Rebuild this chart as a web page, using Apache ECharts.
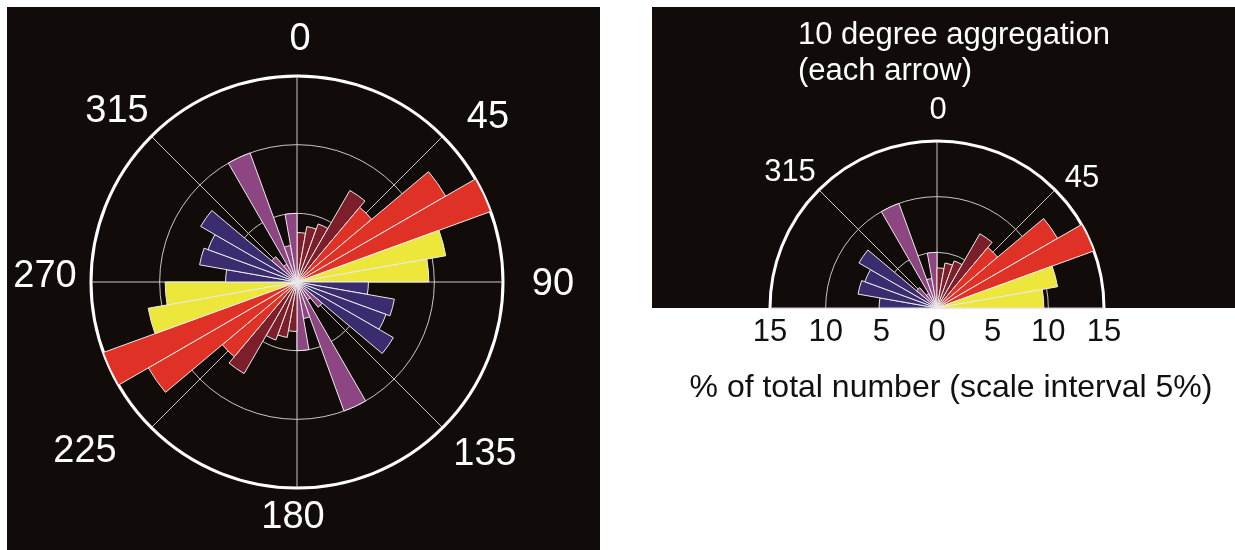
<!DOCTYPE html>
<html>
<head>
<meta charset="utf-8">
<script src="https://cdn.jsdelivr.net/npm/echarts@6/dist/echarts.min.js"></script>
<style>
  html, body { margin: 0; padding: 0; background: #ffffff; width: 1235px; height: 550px; overflow: hidden; }
  .panel { position: absolute; background: #110c0a; }
  #chart { position: absolute; left: 0; top: 0; width: 1235px; height: 550px; }
</style>
</head>
<body>
<div class="panel" style="left:7px; top:7px; width:593px; height:543px;"></div>
<div class="panel" style="left:652px; top:7px; width:583px; height:301px;"></div>
<div id="chart"></div>
<script>
// Direction bins (start of each 10-degree bin, clockwise from north),
// listed for the upper half-circle 270..360 and 0..90.
const binStart = [270, 280, 290, 300, 310, 320, 330, 340, 350, 0, 10, 20, 30, 40, 50, 60, 70, 80];
// Share of all measurements in each bin (%); opposite bins (θ+180) hold the same share.
const binShare = [5.2, 7.2, 6.9, 8.1, 2.4, 1.5, 10.0, 2.7, 5.0, 3.6, 4.1, 4.5, 7.7, 7.1, 12.5, 15.0, 11.0, 9.6];
// Compass labels around the roses and the radial scale below the half rose
const compassTicks = [0, 45, 90, 135, 180, 225, 270, 315];
const halfCompassTicks = [315, 0, 45];
const scaleTicks = [-15, -10, -5, 0, 5, 10, 15];
const titleLines = ['10 degree aggregation', '(each arrow)'];
const scaleName = '% of total number (scale interval 5%)';

const FONT = '"Liberation Sans", Arial, Helvetica, sans-serif';

// colour classes by direction
function dirColor(a) {
  a = ((a % 360) + 360) % 360;
  if (a >= 180) a -= 180;        // fold opposite directions together
  if (a < 40) return '#7c1f2b';   // 0-40
  if (a < 70) return '#e03127';   // 40-70
  if (a < 90) return '#ede73c';   // 70-90
  if (a < 130) return '#3b2c70';  // 270-310
  return '#8e4682';               // 310-360
}

const shareByStart = {};
binStart.forEach((s, i) => { shareByStart[s] = binShare[i]; });

// Full rose: 36 bins from 0 to 350
const fullStarts = [];
for (let s = 0; s < 360; s += 10) fullStarts.push(s);
const fullData = fullStarts.map(s => {
  const key = shareByStart[s] !== undefined ? s : (s + 180) % 360;
  return { value: shareByStart[key], itemStyle: { color: dirColor(s) } };
});
const halfData = binStart.map((s, i) => ({ value: binShare[i], itemStyle: { color: dirColor(s) } }));

const LEFT_C = [297, 282], LEFT_R = 206;
const RIGHT_C = [937, 308], RIGHT_R = 167;
const gridLine = { color: '#c8c8c8', width: 1 };

// compass label placement: centre offset from the rose centre (px)
const leftLabelOffset = {
  0: [3, -242], 45: [191, -164], 90: [256, 3], 135: [188, 173],
  180: [-4, 236], 225: [-212, 170], 270: [-252, -5], 315: [-180, -170]
};
const rightLabelOffset = { 315: [-147, -136], 0: [1, -198], 45: [145, -130] };

function compassText(center, offsets, ticks, size) {
  return ticks.map(t => ({
    type: 'text',
    x: center[0] + offsets[t][0],
    y: center[1] + offsets[t][1],
    z: 10,
    style: {
      text: String(t), fill: '#ffffff',
      fontSize: size, fontFamily: FONT,
      align: 'center', verticalAlign: 'middle',
      textAlign: 'center', textVerticalAlign: 'middle'
    }
  }));
}

const chart = echarts.init(document.getElementById('chart'), null, { renderer: 'canvas' });
chart.setOption({
  backgroundColor: 'transparent',
  animation: false,
  title: {
    left: 793, top: 12,
    text: titleLines.join('\n'),
    textStyle: { color: '#ffffff', fontSize: 31, fontWeight: 'normal', fontFamily: FONT, lineHeight: 36 }
  },
  graphic: compassText(LEFT_C, leftLabelOffset, compassTicks, 38)
    .concat(compassText(RIGHT_C, rightLabelOffset, halfCompassTicks, 31)),
  polar: [
    { center: LEFT_C, radius: LEFT_R },
    { center: LEFT_C, radius: LEFT_R },
    { center: RIGHT_C, radius: RIGHT_R },
    { center: RIGHT_C, radius: RIGHT_R }
  ],
  angleAxis: [
    {
      polarIndex: 0, type: 'value', min: 0, max: 360, interval: 45,
      startAngle: 90, clockwise: true,
      axisLine: { show: true, lineStyle: { color: '#ffffff', width: 3 } },
      axisTick: { show: false },
      splitLine: { show: true, lineStyle: gridLine },
      axisLabel: { show: false }
    },
    {
      polarIndex: 1, type: 'category', data: fullStarts.map(String),
      startAngle: 90, clockwise: true, boundaryGap: true,
      axisLine: { show: false }, axisTick: { show: false },
      axisLabel: { show: false }, splitLine: { show: false }
    },
    {
      polarIndex: 2, type: 'value', min: -90, max: 90, interval: 45,
      startAngle: 180, endAngle: 0, clockwise: true,
      axisLine: { show: true, lineStyle: { color: '#ffffff', width: 3 } },
      axisTick: { show: false },
      splitLine: { show: true, lineStyle: gridLine },
      axisLabel: { show: false }
    },
    {
      polarIndex: 3, type: 'category', data: binStart.map(String),
      startAngle: 180, endAngle: 0, clockwise: true, boundaryGap: true,
      axisLine: { show: false }, axisTick: { show: false },
      axisLabel: { show: false }, splitLine: { show: false }
    }
  ],
  radiusAxis: [
    {
      polarIndex: 0, type: 'value', min: 0, max: 15, interval: 5,
      axisLine: { show: false }, axisTick: { show: false }, axisLabel: { show: false },
      splitLine: { show: true, lineStyle: gridLine }
    },
    {
      polarIndex: 1, type: 'value', min: 0, max: 15,
      axisLine: { show: false }, axisTick: { show: false }, axisLabel: { show: false },
      splitLine: { show: false }
    },
    {
      polarIndex: 2, type: 'value', min: 0, max: 15, interval: 5,
      axisLine: { show: false }, axisTick: { show: false }, axisLabel: { show: false },
      splitLine: { show: true, lineStyle: gridLine }
    },
    {
      polarIndex: 3, type: 'value', min: 0, max: 15,
      axisLine: { show: false }, axisTick: { show: false }, axisLabel: { show: false },
      splitLine: { show: false }
    }
  ],
  grid: {
    left: RIGHT_C[0] - RIGHT_R, width: 2 * RIGHT_R,
    top: RIGHT_C[1] - 1, height: 1
  },
  xAxis: {
    type: 'value', min: scaleTicks[0], max: scaleTicks[scaleTicks.length - 1], interval: 5,
    axisLine: { show: false }, axisTick: { show: false }, splitLine: { show: false },
    axisLabel: {
      color: '#111111', fontSize: 31, fontFamily: FONT, margin: 9,
      formatter: v => String(Math.abs(v))
    },
    name: scaleName, nameLocation: 'middle', nameGap: 64,
    nameTextStyle: { color: '#111111', fontSize: 32, fontFamily: FONT, padding: [0, 0, 0, 28] }
  },
  yAxis: { type: 'value', show: false },
  series: [
    {
      type: 'bar', coordinateSystem: 'polar', polarIndex: 1,
      data: fullData, barCategoryGap: '0%',
      itemStyle: { borderColor: '#ececec', borderWidth: 1 }
    },
    {
      type: 'bar', coordinateSystem: 'polar', polarIndex: 3,
      data: halfData, barCategoryGap: '0%',
      itemStyle: { borderColor: '#ececec', borderWidth: 1 }
    }
  ]
});
</script>
</body>
</html>
